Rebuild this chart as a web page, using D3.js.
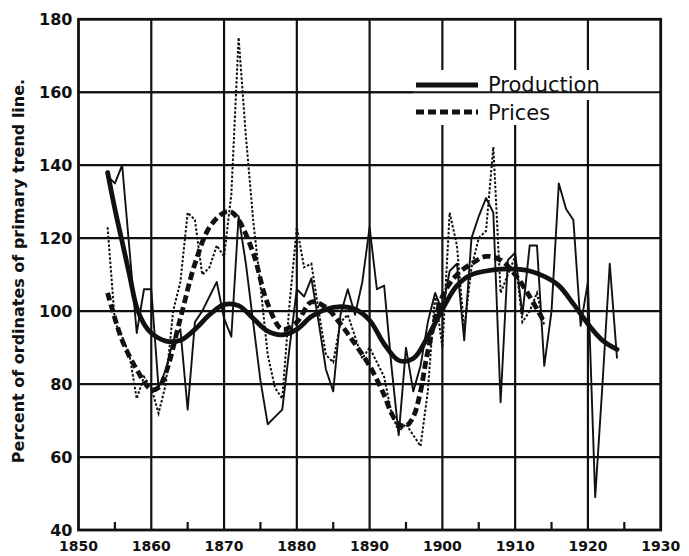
<!DOCTYPE html>
<html>
<head>
<meta charset="utf-8">
<script src="https://cdn.jsdelivr.net/npm/d3@7"></script>
<style>
  html, body { margin: 0; padding: 0; background: #fff; }
  svg { display: block; }
</style>
</head>
<body>
<svg width="689" height="556"></svg>
<script>
// Annual production, percent of primary trend
var prodYears = d3.range(1854, 1925);
var production = [137, 135, 140, 117, 94, 106, 106, 79, 84, 92,
                  95, 73, 97, 100, 104, 108, 98, 93, 126, 113,
                  97, 81, 69, 71, 73, 90, 106, 104, 109, 97,
                  84, 78, 99, 106, 99, 108, 123, 106, 107, 85,
                  66, 90, 78, 85, 97, 105, 100, 111, 113, 92,
                  120, 126, 131, 127, 75, 114, 116, 99, 118, 118,
                  85, 100, 135, 128, 125, 96, 108, 49, 80, 113,
                  87];

// Annual prices, percent of primary trend
var priceYears = d3.range(1854, 1915);
var prices = [123, 97, 93, 88, 76, 82, 79, 72, 80, 100,
              108, 127, 125, 110, 112, 118, 115, 132, 175, 148,
              125, 107, 88, 79, 76, 102, 123, 112, 113, 100,
              88, 86, 97, 99, 93, 87, 90, 86, 82, 72,
              67, 69, 66, 63, 78, 105, 90, 127, 118, 95,
              112, 120, 122, 145, 105, 110, 115, 97, 100, 105,
              96];

// Smoothed secondary trends
var prodTrendYears = [1854, 1855, 1856, 1857, 1858, 1859, 1860, 1862, 1864, 1866, 1868, 1870, 1872, 1874, 1876, 1878, 1880,
                      1882, 1884, 1886, 1888, 1890, 1892, 1894, 1896, 1898, 1900, 1902, 1904, 1906, 1908, 1910,
                      1912, 1914, 1916, 1918, 1920, 1922, 1924];
var prodTrend = [138, 128, 119, 110, 101, 96.5, 94, 91.8, 92, 95, 99, 101.8, 101.5, 98, 94.5, 93.5, 95,
                 98.5, 100.5, 101.2, 100.5, 97.5, 91, 86.5, 87, 93, 100.5, 107, 110, 111, 111.5, 111.5,
                 111, 109.5, 107, 102, 96.5, 92, 89.5];

var priceTrendYears = [1854, 1856, 1858, 1860, 1861, 1862, 1864, 1866, 1868, 1870, 1871, 1872, 1874, 1876, 1878, 1880,
                       1882, 1884, 1886, 1888, 1890, 1892, 1893, 1894, 1895, 1896, 1897, 1898, 1900, 1902, 1904,
                       1906, 1908, 1910, 1912, 1914];
var priceTrend = [105, 92, 84, 78.5, 79, 83, 98, 113, 123, 127, 127.2, 125, 116, 102, 95, 97,
                  102.5, 101, 96.5, 91, 85, 77, 72, 69, 68.5, 71, 78, 89, 104, 110, 113,
                  115, 114, 110, 104, 97];

var xTicks = d3.range(1850, 1931, 10);
var yTicks = d3.range(40, 181, 20);
var midTicks = d3.range(1855, 1930, 10);

var svg = d3.select("svg");
var plotL = 78.5, plotR = 660.7, plotT = 19.3, plotB = 530;

var x = d3.scaleLinear().domain([1850, 1930]).range([plotL, plotR]);
var y = d3.scaleLinear().domain([40, 180]).range([plotB, plotT]);

var ink = "#111";

// grid
svg.append("g").selectAll("line")
  .data(xTicks.slice(1, -1))
  .enter().append("line")
  .attr("x1", function(d) { return x(d); })
  .attr("x2", function(d) { return x(d); })
  .attr("y1", plotT).attr("y2", plotB)
  .style("stroke", ink).style("stroke-width", 2.2);

svg.append("g").selectAll("line")
  .data(yTicks.slice(1, -1))
  .enter().append("line")
  .attr("x1", plotL).attr("x2", plotR)
  .attr("y1", function(d) { return y(d); })
  .attr("y2", function(d) { return y(d); })
  .style("stroke", ink).style("stroke-width", 2.2);

// frame
svg.append("rect")
  .attr("x", plotL).attr("y", plotT)
  .attr("width", plotR - plotL).attr("height", plotB - plotT)
  .style("fill", "none").style("stroke", ink).style("stroke-width", 2.8);

// mid-decade ticks on the base
svg.append("g").selectAll("line")
  .data(midTicks)
  .enter().append("line")
  .attr("x1", function(d) { return x(d); })
  .attr("x2", function(d) { return x(d); })
  .attr("y1", plotB).attr("y2", plotB - 8)
  .style("stroke", ink).style("stroke-width", 2.2);

// legend background (breaks the grid behind the text)
svg.append("rect").attr("x", 413).attr("y", 70).attr("width", 199).attr("height", 30).style("fill", "#fff");
svg.append("rect").attr("x", 413).attr("y", 98).attr("width", 147).attr("height", 27).style("fill", "#fff");
svg.append("line")
  .attr("x1", plotL).attr("x2", 612)
  .attr("y1", y(160)).attr("y2", y(160))
  .style("stroke", ink).style("stroke-width", 2.2);

// lines
function line(xs) {
  return d3.line()
    .x(function(d, i) { return x(xs[i]); })
    .y(function(d) { return y(d); });
}

svg.append("path")
  .attr("d", line(prodTrendYears).curve(d3.curveCatmullRom)(prodTrend))
  .style("fill", "none").style("stroke", ink).style("stroke-width", 4.8)
  .style("stroke-linecap", "round");

svg.append("path")
  .attr("d", line(priceTrendYears).curve(d3.curveCatmullRom)(priceTrend))
  .style("fill", "none").style("stroke", ink).style("stroke-width", 4.8)
  .style("stroke-dasharray", "8,4");

svg.append("path")
  .attr("d", line(prodYears)(production))
  .style("fill", "none").style("stroke", ink).style("stroke-width", 1.9)
  .style("stroke-linejoin", "round");

svg.append("path")
  .attr("d", line(priceYears)(prices))
  .style("fill", "none").style("stroke", ink).style("stroke-width", 2)
  .style("stroke-dasharray", "2.5,1.8");

// legend
svg.append("line").attr("x1", 416).attr("x2", 478).attr("y1", 85).attr("y2", 85)
  .style("stroke", ink).style("stroke-width", 4.8);
svg.append("line").attr("x1", 416).attr("x2", 478).attr("y1", 112).attr("y2", 112)
  .style("stroke", ink).style("stroke-width", 4.8).style("stroke-dasharray", "8,4");
svg.append("text").attr("x", 488).attr("y", 92).text("Production")
  .style("font-family", "DejaVu Sans").style("font-size", "21px").style("fill", ink);
svg.append("text").attr("x", 488).attr("y", 120).text("Prices")
  .style("font-family", "DejaVu Sans").style("font-size", "21px").style("fill", ink);

// axis labels
svg.append("g").selectAll("text")
  .data(yTicks)
  .enter().append("text")
  .attr("x", plotL - 6)
  .attr("y", function(d) { return y(d) + 6; })
  .attr("text-anchor", "end")
  .text(function(d) { return d; })
  .style("font-family", "DejaVu Sans").style("font-weight", "bold")
  .style("font-size", "16px").style("fill", ink);

svg.append("g").selectAll("text")
  .data(xTicks)
  .enter().append("text")
  .attr("x", function(d) { return x(d); })
  .attr("y", plotB + 21)
  .attr("text-anchor", "middle")
  .text(function(d) { return d; })
  .style("font-family", "DejaVu Sans").style("font-weight", "bold")
  .style("font-size", "14px").style("fill", ink);

svg.append("text")
  .attr("transform", "translate(24,271) rotate(-90)")
  .attr("text-anchor", "middle")
  .text("Percent of ordinates of primary trend line.")
  .style("font-family", "DejaVu Sans").style("font-weight", "bold")
  .style("font-size", "16px").style("fill", ink);
</script>
</body>
</html>
